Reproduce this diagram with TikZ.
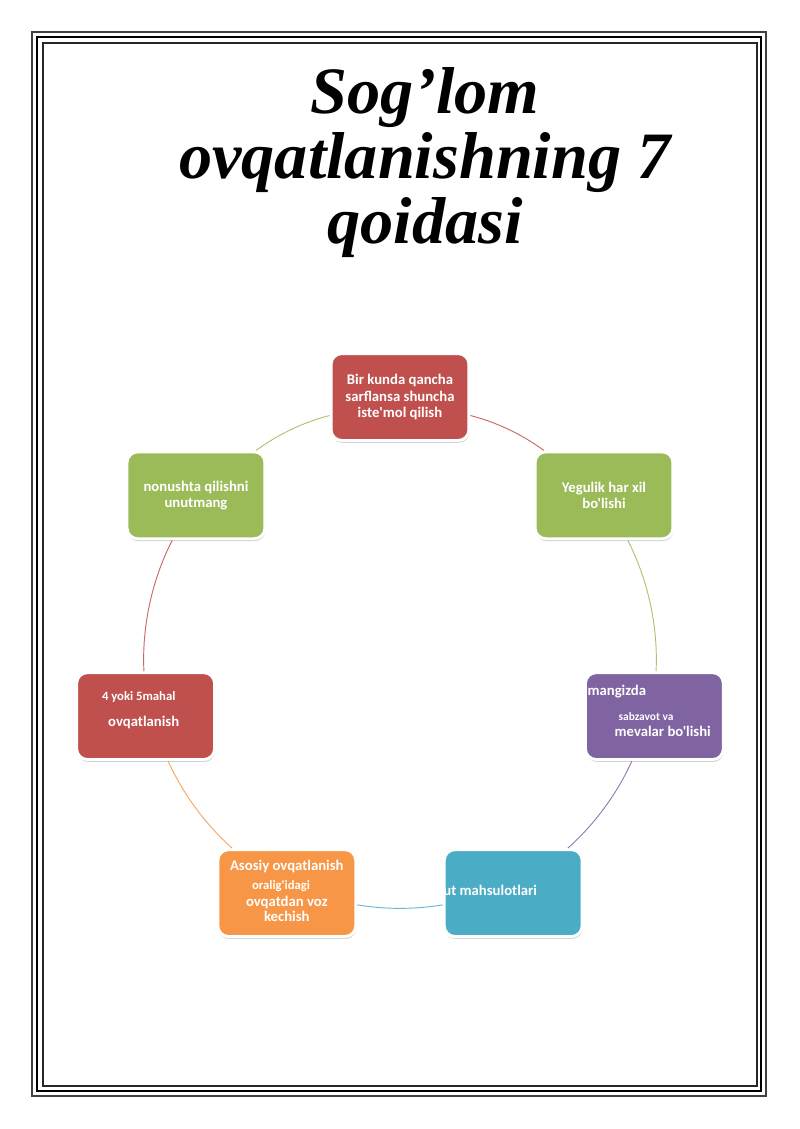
\documentclass[tikz,border=0pt]{standalone}
\usepackage{fontspec}
\newfontfamily\titlefont{Liberation Serif}
\newfontfamily\boxfont{Carlito}
\usetikzlibrary{shadows}
\definecolor{qred}{HTML}{C0504D}
\definecolor{qgreen}{HTML}{9BBB59}
\definecolor{qpurple}{HTML}{8064A2}
\definecolor{qblue}{HTML}{4BACC6}
\definecolor{qorange}{HTML}{F79646}
\begin{document}
\begin{tikzpicture}[
    qoida/.style={rectangle, rounded corners=0.28cm, draw=white, line width=2.2pt,
      minimum width=3.62cm, minimum height=2.28cm, text=white, align=center,
      font=\boxfont\bfseries\fontsize{11}{12}\selectfont,
      drop shadow={shadow xshift=0.4pt, shadow yshift=-1.8pt, opacity=0.35}},
    yozuv/.style={text=white, inner sep=0pt, align=center,
      font=\boxfont\bfseries\fontsize{11}{12}\selectfont},
    kichik/.style={yozuv, font=\boxfont\bfseries\fontsize{9.5}{10}\selectfont},
    halqa/.style={line width=0.7pt, looseness=0.85}]
    \useasboundingbox (-10.5,-12.364) rectangle (10.5,17.273);
    %% Page border
    \draw[line width=1.1pt, black!75] (-9.66,-11.498) rectangle (9.608,16.433);
    \draw[line width=1.9pt] (-9.529,-11.366) rectangle (9.476,16.301);
    \draw[line width=1.1pt, black!85] (-9.371,-11.235) rectangle (9.371,16.144);
    %% Title
    \node[font=\titlefont\bfseries\itshape\fontsize{49.5}{48.5}\selectfont, align=center, anchor=base]
      (sarlavha) at (0.66,10.89) {Sog’lom\\ovqatlanishning 7\\qoidasi};
    %% Rules
    \node[qoida, fill=qred] (q1) at (90:6.85) {Bir kunda qancha\\sarflansa shuncha\\iste'mol qilish};
    \node[qoida, fill=qgreen] (q2) at (38.57:6.85) {Yegulik har xil\\bo'lishi};
    \node[qoida, fill=qpurple] (q3) at (-12.86:6.85) {};
    \node[qoida, fill=qblue] (q4) at (-64.29:6.85) {};
    \node[qoida, fill=qorange] (q5) at (-115.71:6.85) {};
    \node[qoida, fill=qred] (q6) at (-167.14:6.85) {};
    \node[qoida, fill=qgreen] (q7) at (141.43:6.85) {nonushta qilishni\\unutmang};
    %% Texts placed by hand
    \node[yozuv, anchor=west] (q3a) at ([shift={(-1.76,0.64)}]q3.center) {mangizda};
    \node[kichik, font=\boxfont\bfseries\fontsize{8.5}{10}\selectfont] (q3b) at ([shift={(-0.22,0)}]q3.center) {sabzavot va};
    \node[yozuv] (q3c) at ([shift={(0.22,-0.41)}]q3.center) {mevalar bo'lishi};
    \node[yozuv, anchor=west] (q4a) at ([shift={(-1.84,0.08)}]q4.center) {ut mahsulotlari};
    \node[yozuv] (q5a) at ([shift={(0,0.71)}]q5.center) {Asosiy ovqatlanish};
    \node[kichik] (q5b) at ([shift={(-0.15,0.18)}]q5.center) {oralig'idagi};
    \node[yozuv] (q5c) at ([shift={(0,-0.24)}]q5.center) {ovqatdan voz};
    \node[yozuv] (q5d) at ([shift={(0,-0.62)}]q5.center) {kechish};
    \node[kichik] (q6a) at ([shift={(-0.18,0.49)}]q6.center) {4 yoki 5mahal};
    \node[yozuv] (q6b) at ([shift={(-0.05,-0.16)}]q6.center) {ovqatlanish};
    %% Circle
    \draw[halqa, qred!85] (q1) to[bend left=11] (q2);
    \draw[halqa, qgreen!85] (q2) to[bend left=15] (q3);
    \draw[halqa, qpurple!85] (q3) to[bend left=12] (q4);
    \draw[halqa, qblue!85] (q4) to[bend left=9.5] (q5);
    \draw[halqa, qorange!85] (q5) to[bend left=12] (q6);
    \draw[halqa, qred!85] (q6) to[bend left=15] (q7);
    \draw[halqa, qgreen!85] (q7) to[bend left=11] (q1);
\end{tikzpicture}
\end{document}
